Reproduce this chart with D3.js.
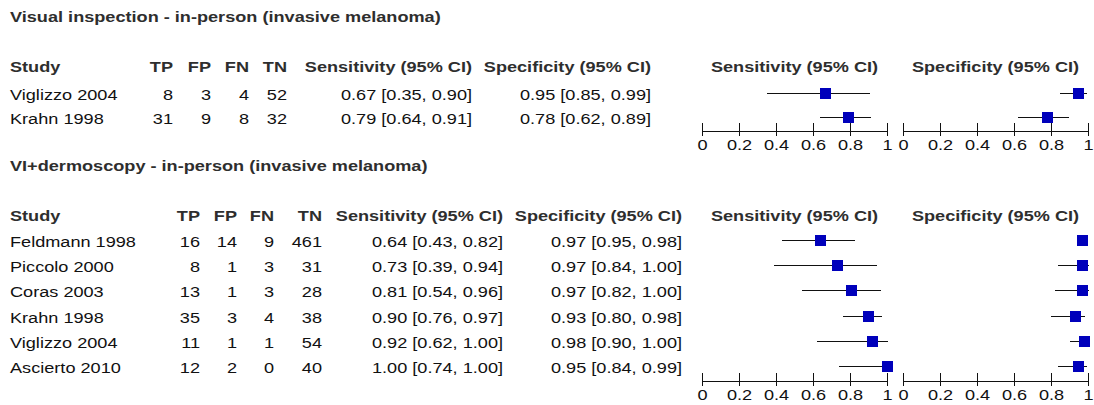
<!DOCTYPE html>
<html><head><meta charset="utf-8">
<script src="https://cdn.jsdelivr.net/npm/d3@7"></script>
<style>
html,body{margin:0;padding:0;background:#fff;}
svg text{font-family:"Liberation Sans",Arial,sans-serif;font-size:15px;}
</style></head>
<body><svg id="c" width="1094" height="405"></svg>
<script>
// ---- data ----
const title1 = "Visual inspection - in-person (invasive melanoma)";
const studies1 = ["Viglizzo 2004", "Krahn 1998"];
const tp1 = [8, 31], fp1 = [3, 9], fn1 = [4, 8], tn1 = [52, 32];
const sens1 = [0.67, 0.79], sensLo1 = [0.35, 0.64], sensHi1 = [0.90, 0.91];
const spec1 = [0.95, 0.78], specLo1 = [0.85, 0.62], specHi1 = [0.99, 0.89];

const title2 = "VI+dermoscopy - in-person (invasive melanoma)";
const studies2 = ["Feldmann 1998", "Piccolo 2000", "Coras 2003", "Krahn 1998", "Viglizzo 2004", "Ascierto 2010"];
const tp2 = [16, 8, 13, 35, 11, 12], fp2 = [14, 1, 1, 3, 1, 2], fn2 = [9, 3, 3, 4, 1, 0], tn2 = [461, 31, 28, 38, 54, 40];
const sens2 = [0.64, 0.73, 0.81, 0.90, 0.92, 1.00], sensLo2 = [0.43, 0.39, 0.54, 0.76, 0.62, 0.74], sensHi2 = [0.82, 0.94, 0.96, 0.97, 1.00, 1.00];
const spec2 = [0.97, 0.97, 0.97, 0.93, 0.98, 0.95], specLo2 = [0.95, 0.84, 0.82, 0.80, 0.90, 0.84], specHi2 = [0.98, 1.00, 1.00, 0.98, 1.00, 0.99];

const tickVals = [0, 0.2, 0.4, 0.6, 0.8, 1];
const colHeaders = ["Study", "TP", "FP", "FN", "TN", "Sensitivity (95% CI)", "Specificity (95% CI)"];

// ---- layout ----
const svg = d3.select("#c");
const SX = 1.21;
const fmt2 = d3.format(".2f");
const ci = (v, l, h) => `${fmt2(v)} [${fmt2(l)}, ${fmt2(h)}]`;

function txt(x, y, s, anchor, bold) {
  svg.append("text")
    .attr("transform", `translate(${x},${y}) scale(${SX},1)`)
    .attr("text-anchor", anchor || "start")
    .attr("fill", bold ? "#2e2e2e" : "#111")
    .attr("font-weight", bold ? "bold" : "normal")
    .text(s);
}

const xSens = d3.scaleLinear().domain([0, 1]).range([702, 887]);
const xSpec = d3.scaleLinear().domain([0, 1]).range([903, 1088]);

function panel(cfg) {
  const { title, studies, tp, fp, fn, tn, sens, sensLo, sensHi, spec, specLo, specHi,
          titleY, headY, rowY0, rowY1, cols, axisY } = cfg;
  const y = d3.scalePoint().domain(d3.range(studies.length)).range([rowY0, rowY1]);
  txt(10, titleY, title, "start", true);
  txt(10, headY, colHeaders[0], "start", true);
  [1, 2, 3, 4, 5, 6].forEach((k, i) => txt(cols[i], headY, colHeaders[k], "end", true));
  txt((xSens(0) + xSens(1)) / 2, headY, colHeaders[5], "middle", true);
  txt((xSpec(0) + xSpec(1)) / 2, headY, colHeaders[6], "middle", true);
  studies.forEach((s, i) => {
    const yy = y(i);
    txt(10, yy, s, "start");
    txt(cols[0], yy, tp[i], "end");
    txt(cols[1], yy, fp[i], "end");
    txt(cols[2], yy, fn[i], "end");
    txt(cols[3], yy, tn[i], "end");
    txt(cols[4], yy, ci(sens[i], sensLo[i], sensHi[i]), "end");
    txt(cols[5], yy, ci(spec[i], specLo[i], specHi[i]), "end");
  });
  [[xSens, sens, sensLo, sensHi], [xSpec, spec, specLo, specHi]].forEach(([xs, v, lo, hi]) => {
    const g = svg.append("g");
    studies.forEach((s, i) => {
      const cy = Math.round(y(i) - 7) + 0.5;
      g.append("line").attr("x1", xs(lo[i])).attr("x2", xs(hi[i]) + 1)
        .attr("y1", cy).attr("y2", cy).attr("stroke", "#111").attr("stroke-width", 1)
        .attr("shape-rendering", "crispEdges");
      g.append("rect").attr("x", Math.round(xs(v[i]) - 5.5)).attr("y", Math.round(cy - 5.5))
        .attr("width", 11).attr("height", 11).attr("fill", "#0000bb");
    });
    const ax = svg.append("g").attr("transform", `translate(0,${axisY + 0.5})`)
      .call(d3.axisBottom(xs).tickValues(tickVals).tickSize(5).tickSizeOuter(0).tickFormat(d3.format("~g")));
    ax.select(".domain").attr("stroke", "#111").attr("shape-rendering", "crispEdges");
    ax.selectAll(".tick line").attr("y1", -8).attr("y2", 5).attr("stroke", "#111")
      .attr("shape-rendering", "crispEdges");
    ax.selectAll(".tick text").attr("y", 0).attr("dy", 0)
      .attr("transform", `translate(0,19) scale(${SX},1)`)
      .attr("fill", "#111").style("font-size", "15px")
      .style("font-family", '"Liberation Sans",Arial,sans-serif');
  });
}

panel({
  title: title1, studies: studies1, tp: tp1, fp: fp1, fn: fn1, tn: tn1,
  sens: sens1, sensLo: sensLo1, sensHi: sensHi1, spec: spec1, specLo: specLo1, specHi: specHi1,
  titleY: 22, headY: 72, rowY0: 100, rowY1: 124,
  cols: [173, 211, 249, 287, 472, 651], axisY: 130
});
panel({
  title: title2, studies: studies2, tp: tp2, fp: fp2, fn: fn2, tn: tn2,
  sens: sens2, sensLo: sensLo2, sensHi: sensHi2, spec: spec2, specLo: specLo2, specHi: specHi2,
  titleY: 171, headY: 221, rowY0: 247, rowY1: 373,
  cols: [200, 237, 274, 322, 503, 682], axisY: 380
});
</script></body></html>
